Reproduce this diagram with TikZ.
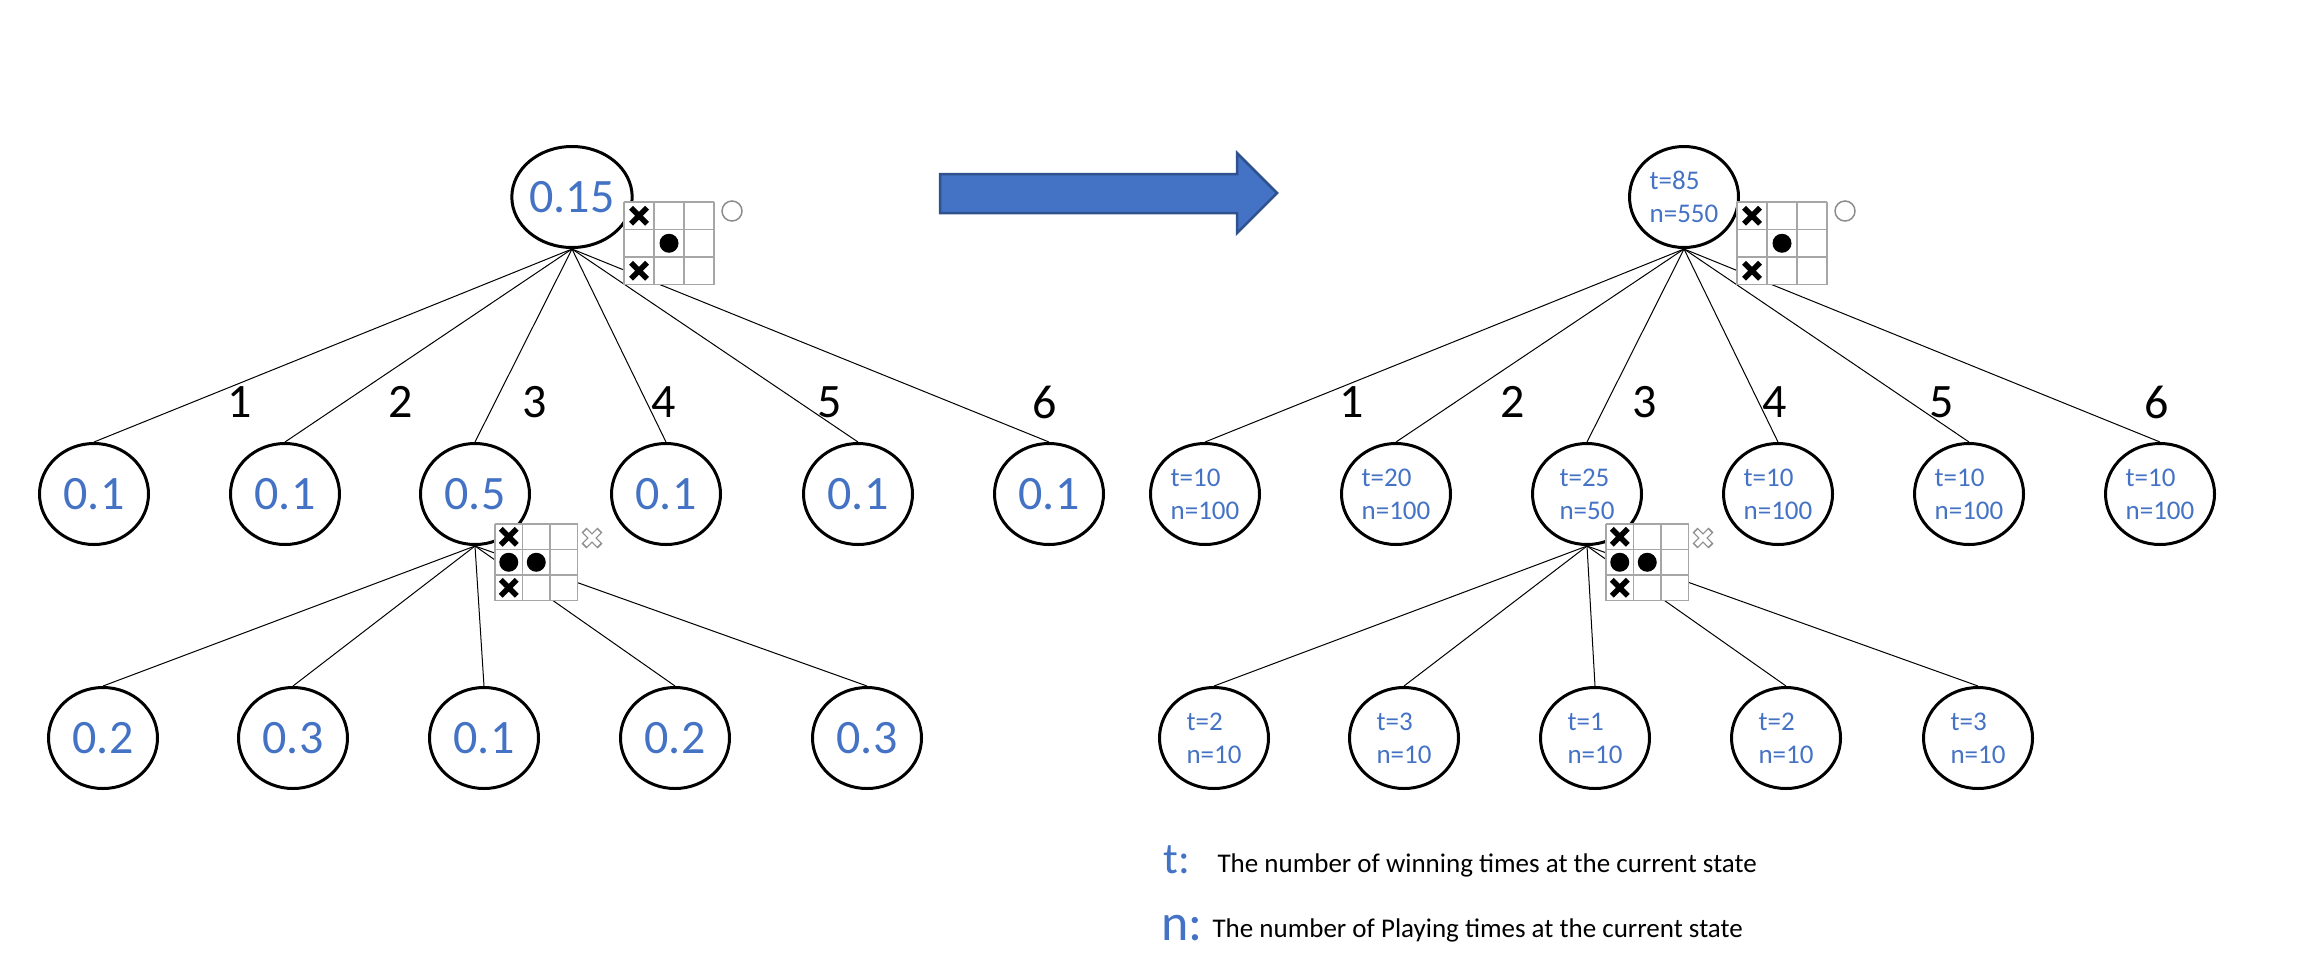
\documentclass[tikz,border=0pt]{standalone}
\usepackage{fontspec}
\setmainfont{Carlito}
\usepackage{tikz}
\usetikzlibrary{shapes.geometric}
\definecolor{valblue}{HTML}{4472C4}
\definecolor{arrowedge}{HTML}{2F528F}
\definecolor{boardgray}{HTML}{A6A6A6}

\newcommand{\tttgrid}[2]{%
\fill[white] (0,0) rectangle (3*#1,3*#2);
\foreach \k in {0,...,3}{
  \draw[BoardLines] (\k*#1,0) -- (\k*#1,3*#2);
  \draw[BoardLines] (0,\k*#2) -- (3*#1,\k*#2);
}}
\newcommand{\xmark}[2]{\draw[XMark] (#1-8,#2-8) -- (#1+8,#2+8) (#1-8,#2+8) -- (#1+8,#2-8);}
\newcommand{\omark}[2]{\fill[OMark] (#1,#2) circle (9.5);}
\newcommand{\ghostx}[2]{%
\draw[GhostMark, line width=7pt] (#1-8,#2-8) -- (#1+8,#2+8) (#1-8,#2+8) -- (#1+8,#2-8);
\draw[white, line width=4.5pt] (#1-6.8,#2-6.8) -- (#1+6.8,#2+6.8) (#1-6.8,#2+6.8) -- (#1+6.8,#2-6.8);}

\begin{document}
\begin{tikzpicture}[
x=1pt, y=-1pt,
StateNode/.style={ellipse,draw=black,line width=3pt,minimum width=109pt,minimum height=101pt,inner sep=0pt},
ValueText/.style={text=valblue,font=\fontsize{48}{56}\selectfont},
CountText/.style={text=valblue,font=\fontsize{27}{33}\selectfont,align=left},
MoveLabel/.style={text=black,font=\fontsize{48}{56}\selectfont},
Edges/.style={draw=black,line width=1pt},
BoardLines/.style={draw=boardgray,line width=1.5pt},
XMark/.style={draw=black,line width=5.5pt},
OMark/.style={fill=black},
GhostMark/.style={draw=gray!90,line width=1.5pt}
]

\useasboundingbox (0,0) rectangle (2312,970);

% left tree: values
\node[StateNode,ValueText] (L0) at (572,197) {0.15};

\node[StateNode,ValueText] (L1) at (94,494) {0.1};
\node[StateNode,ValueText] (L2) at (285,494) {0.1};
\node[StateNode,ValueText] (L3) at (475,494) {0.5};
\node[StateNode,ValueText] (L4) at (666,494) {0.1};
\node[StateNode,ValueText] (L5) at (858,494) {0.1};
\node[StateNode,ValueText] (L6) at (1049,494) {0.1};

\node[StateNode,ValueText] (L31) at (103,738) {0.2};
\node[StateNode,ValueText] (L32) at (293,738) {0.3};
\node[StateNode,ValueText] (L33) at (484,738) {0.1};
\node[StateNode,ValueText] (L34) at (675,738) {0.2};
\node[StateNode,ValueText] (L35) at (867,738) {0.3};

% right tree: t and n
\node[StateNode,CountText] (R0) at (1684,197) {t=85\\n=550};

\node[StateNode,CountText] (R1) at (1205,494) {t=10\\n=100};
\node[StateNode,CountText] (R2) at (1396,494) {t=20\\n=100};
\node[StateNode,CountText] (R3) at (1587,494) {t=25\\n=50};
\node[StateNode,CountText] (R4) at (1778,494) {t=10\\n=100};
\node[StateNode,CountText] (R5) at (1969,494) {t=10\\n=100};
\node[StateNode,CountText] (R6) at (2160,494) {t=10\\n=100};

\node[StateNode,CountText] (R31) at (1214,738) {t=2\\n=10};
\node[StateNode,CountText] (R32) at (1404,738) {t=3\\n=10};
\node[StateNode,CountText] (R33) at (1595,738) {t=1\\n=10};
\node[StateNode,CountText] (R34) at (1786,738) {t=2\\n=10};
\node[StateNode,CountText] (R35) at (1978,738) {t=3\\n=10};

\foreach \c in {1,...,6}{
  \draw[Edges] (L0.south) -- (L\c.north);
  \draw[Edges] (R0.south) -- (R\c.north);
}
\foreach \c in {1,...,5}{
  \draw[Edges] (L3.south) -- (L3\c.north);
  \draw[Edges] (R3.south) -- (R3\c.north);
}

% moves
\node[MoveLabel] (lm1) at (240,402) {1};
\node[MoveLabel] (lm2) at (401,402) {2};
\node[MoveLabel] (lm3) at (535,402) {3};
\node[MoveLabel] (lm4) at (664,402) {4};
\node[MoveLabel] (lm5) at (830,402) {5};
\node[MoveLabel] (lm6) at (1045,402) {6};

\node[MoveLabel] (rm1) at (1352,402) {1};
\node[MoveLabel] (rm2) at (1513,402) {2};
\node[MoveLabel] (rm3) at (1645,402) {3};
\node[MoveLabel] (rm4) at (1775,402) {4};
\node[MoveLabel] (rm5) at (1942,402) {5};
\node[MoveLabel] (rm6) at (2157,402) {6};

% boards
\foreach \bx in {624,1737}{
\begin{scope}[shift={(\bx,202)}]
\tttgrid{30}{27.5}
\xmark{15}{13.75} \xmark{15}{68.75}
\omark{45}{41.25}
\draw[GhostMark] (108,9) circle (10);
\end{scope}
}
\foreach \bx in {495,1606}{
\begin{scope}[shift={(\bx,524)}]
\tttgrid{27.5}{25.5}
\xmark{13.75}{12.75} \xmark{13.75}{63.75}
\omark{13.75}{38.25} \omark{41.25}{38.25}
\ghostx{97}{14}
\end{scope}
}

% big arrow
\filldraw[fill=valblue,draw=arrowedge,line width=2.5pt] (940,174) -- (1237,174) -- (1237,153) -- (1277,193) -- (1237,233) -- (1237,213) -- (940,213) -- cycle;

% legend
\node[anchor=base west,text=valblue,font=\fontsize{44}{50}\selectfont] (tkey) at (1160,873) {t:};
\node[anchor=base west,font=\fontsize{27}{32}\selectfont] (tdesc) at (1214,872) {The number of winning times at the current state};
\node[anchor=base west,text=valblue,font=\fontsize{52}{60}\selectfont] (nkey) at (1158,940) {n:};
\node[anchor=base west,font=\fontsize{27}{32}\selectfont] (ndesc) at (1209,937) {The number of Playing times at the current state};

\end{tikzpicture}
\end{document}
